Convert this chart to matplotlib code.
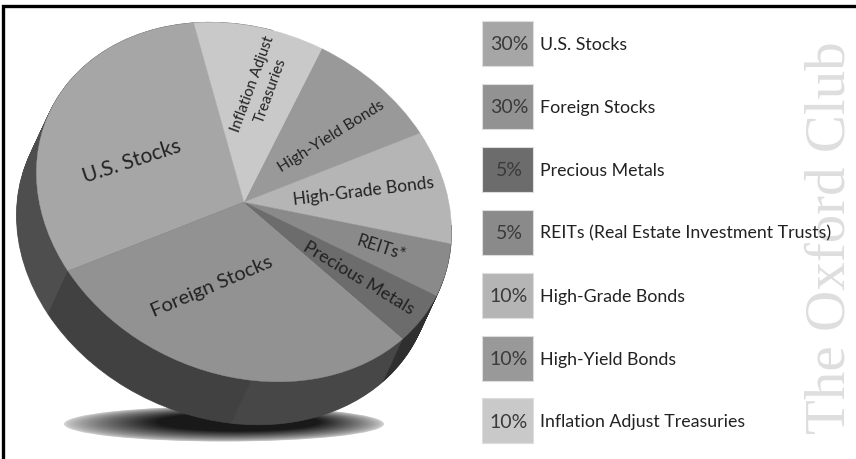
import matplotlib
matplotlib.use("Agg")
import matplotlib.pyplot as plt
import numpy as np
from matplotlib.patches import Ellipse, Rectangle, Wedge
from matplotlib.transforms import Affine2D

plt.rcParams['font.family'] = ['Lato', 'DejaVu Sans']

# legend order, goes round the pie the other way
categories = ["U.S. Stocks", "Foreign Stocks", "Precious Metals",
              "REITs (Real Estate Investment Trusts)", "High-Grade Bonds",
              "High-Yield Bonds", "Inflation Adjust Treasuries"]
shares = [30, 30, 5, 5, 10, 10, 10]
colors = ["#a6a6a6", "#929292", "#6c6c6c", "#8a8a8a", "#b5b5b5", "#999999", "#c9c9c9"]

# sections of the side wall, angles in the tilted pie's own frame
side_from = [180, 120, 72, 30]
side_to = [310, 180, 120, 72]
side_colors = ["#4e4e4e", "#414141", "#474747", "#2f2f2f"]

# pie labels: text, x, y, rotation, size
pie_labels = [("U.S. Stocks", 132, 161, 18, 15),
              ("Foreign Stocks", 212, 287, 23, 14.5),
              ("Precious Metals", 359, 278, -31, 13),
              ("REITs*", 381, 248, -18, 12.5),
              ("High-Grade Bonds", 363, 191, 7, 12.5),
              ("High-Yield Bonds", 331, 137, 32, 11.5),
              ("Inflation Adjust\nTreasuries", 262, 87, 70, 10.8)]

fig = plt.figure(figsize=(8.56, 4.59), dpi=100)
ax = fig.add_axes([0, 0, 1, 1])
ax.set_xlim(0, 856)
ax.set_ylim(459, 0)
ax.axis("off")

# frame
ax.plot([3, 3, 856], [459, 6, 6], color="black", lw=2.4, solid_joinstyle="miter")

# watermark
ax.text(831, 238, "The Oxford Club", rotation=90, ha="center", va="center",
        fontsize=41, color="#dedede", family="Liberation Serif", zorder=1)

# shadow under the pie
for t in np.linspace(0, 1, 40):
    g = 0.82 - 0.72 * t ** 0.75
    ax.add_patch(Ellipse((224 + 14 * t, 424 - 2 * t), 320 - 157 * t, 35 - 17 * t,
                         fc=str(g), ec="none", zorder=2))

centre = (244, 202)
tilt = Affine2D.from_values(176, -69, 110, 166, centre[0], centre[1])

# side wall, the pie face swept down
for k in np.linspace(1, 0, 45):
    shift = Affine2D().translate(-20 * k, 43 * k)
    for a, b, c in zip(side_from, side_to, side_colors):
        w = Wedge((0, 0), 1, a, b, fc=c, ec=c, lw=0.5, zorder=3)
        w.set_transform(tilt + shift + ax.transData)
        ax.add_patch(w)

# top face
wedges, _ = ax.pie(shares, colors=colors, startangle=-72, counterclock=False,
                   radius=1, center=(0, 0), frame=False)
for w in wedges:
    w.set_transform(tilt + ax.transData)
    w.set_zorder(4)
    w.set_edgecolor(w.get_facecolor())
    w.set_linewidth(0.3)
ax.set_xlim(0, 856)
ax.set_ylim(459, 0)
ax.set_aspect("auto")

for txt, x, y, rot, size in pie_labels:
    ax.text(x, y, txt, rotation=rot, rotation_mode="anchor", ha="center", va="center",
            fontsize=size, color="#222222", zorder=5, linespacing=1.45, multialignment="center")

# legend
for i, (name, share, c) in enumerate(zip(categories, shares, colors)):
    top = 21 + i * 62.9
    ax.add_patch(Rectangle((482, top), 51, 45, fc=c, ec="#dddddd", lw=0.8, zorder=3))
    ax.text(509, top + 24, f"{share}%", ha="center", va="center", fontsize=14, color="#3a3a3a", zorder=5)
    ax.text(540, top + 24, name, ha="left", va="center", fontsize=12.8, color="#222222", zorder=5)

fig.savefig("out.png", dpi=100)
